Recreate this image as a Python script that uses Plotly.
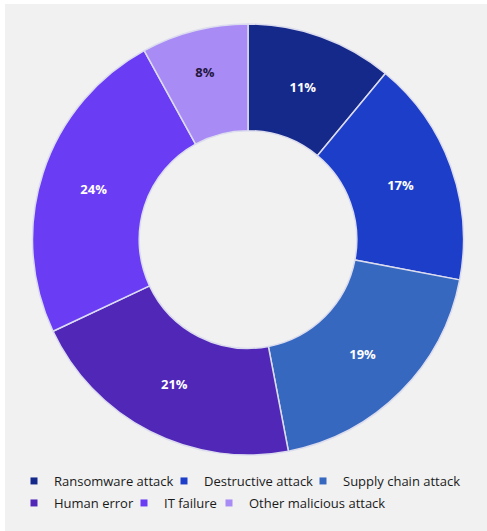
import plotly.graph_objects as go

labels = ["Ransomware attack", "Destructive attack", "Supply chain attack",
          "Human error", "IT failure", "Other malicious attack"]
values = [11, 17, 19, 21, 24, 8]
colors = ["#15298a", "#1d3ec8", "#3668c0", "#5127b8", "#6a3df4", "#a98bf6"]
label_colors = ["white", "white", "white", "white", "white", "#24173f"]
row1 = labels[:3]
row2 = labels[3:]

W, H = 487, 531
cx, cy, R = 248, 239.5, 215.5
domain = dict(x=[(cx - R) / W, (cx + R) / W],
              y=[(H - cy - R) / H, (H - cy + R) / H])

fig = go.Figure()
fig.add_trace(go.Pie(
    labels=labels, values=values, sort=False, direction="clockwise", rotation=0,
    hole=0.505,
    marker=dict(colors=colors, line=dict(color="#dcdcef", width=1.5)),
    texttemplate="%{value}%", textposition="inside",
    insidetextorientation="horizontal",
    textfont=dict(color=label_colors, size=13, family="Open Sans", weight="bold"),
    showlegend=False, hoverinfo="skip", domain=domain, legend="legend3",
))

# legend entry spacing (px) so the rows flow like the reference
entry_widths = [105, 94, None, 65, 40, None]
for lab, col, ew in zip(labels, colors, entry_widths):
    fig.add_trace(go.Scatter(
        x=[None], y=[None], mode="markers", name=lab,
        marker=dict(symbol="square", size=7, color=col),
        legend="legend" if lab in row1 else "legend2",
        legendwidth=ew,
        hoverinfo="skip",
    ))

legend_style = dict(orientation="h", xanchor="left", yanchor="middle",
                    bgcolor="rgba(0,0,0,0)", borderwidth=0,
                    font=dict(family="Open Sans", size=13, color="#1a1a1a"),
                    itemclick=False, itemdoubleclick=False)

fig.update_layout(
    width=W, height=H,
    margin=dict(l=0, r=0, t=0, b=0),
    paper_bgcolor="white",
    plot_bgcolor="rgba(0,0,0,0)",
    xaxis=dict(visible=False), yaxis=dict(visible=False),
    legend=dict(x=14 / W, y=(H - 481) / H, **legend_style),
    legend2=dict(x=14 / W, y=(H - 503) / H, **legend_style),
    legend3=dict(visible=False),
    shapes=[dict(type="rect", xref="paper", yref="paper", layer="below",
                 x0=5 / W, x1=1, y0=0, y1=1 - 4 / H,
                 fillcolor="#f1f1f1", line=dict(width=0))],
)

fig.write_html("out.html", config={"displayModeBar": False},
               post_script="document.body.style.margin='0';document.body.style.overflow='hidden';")
